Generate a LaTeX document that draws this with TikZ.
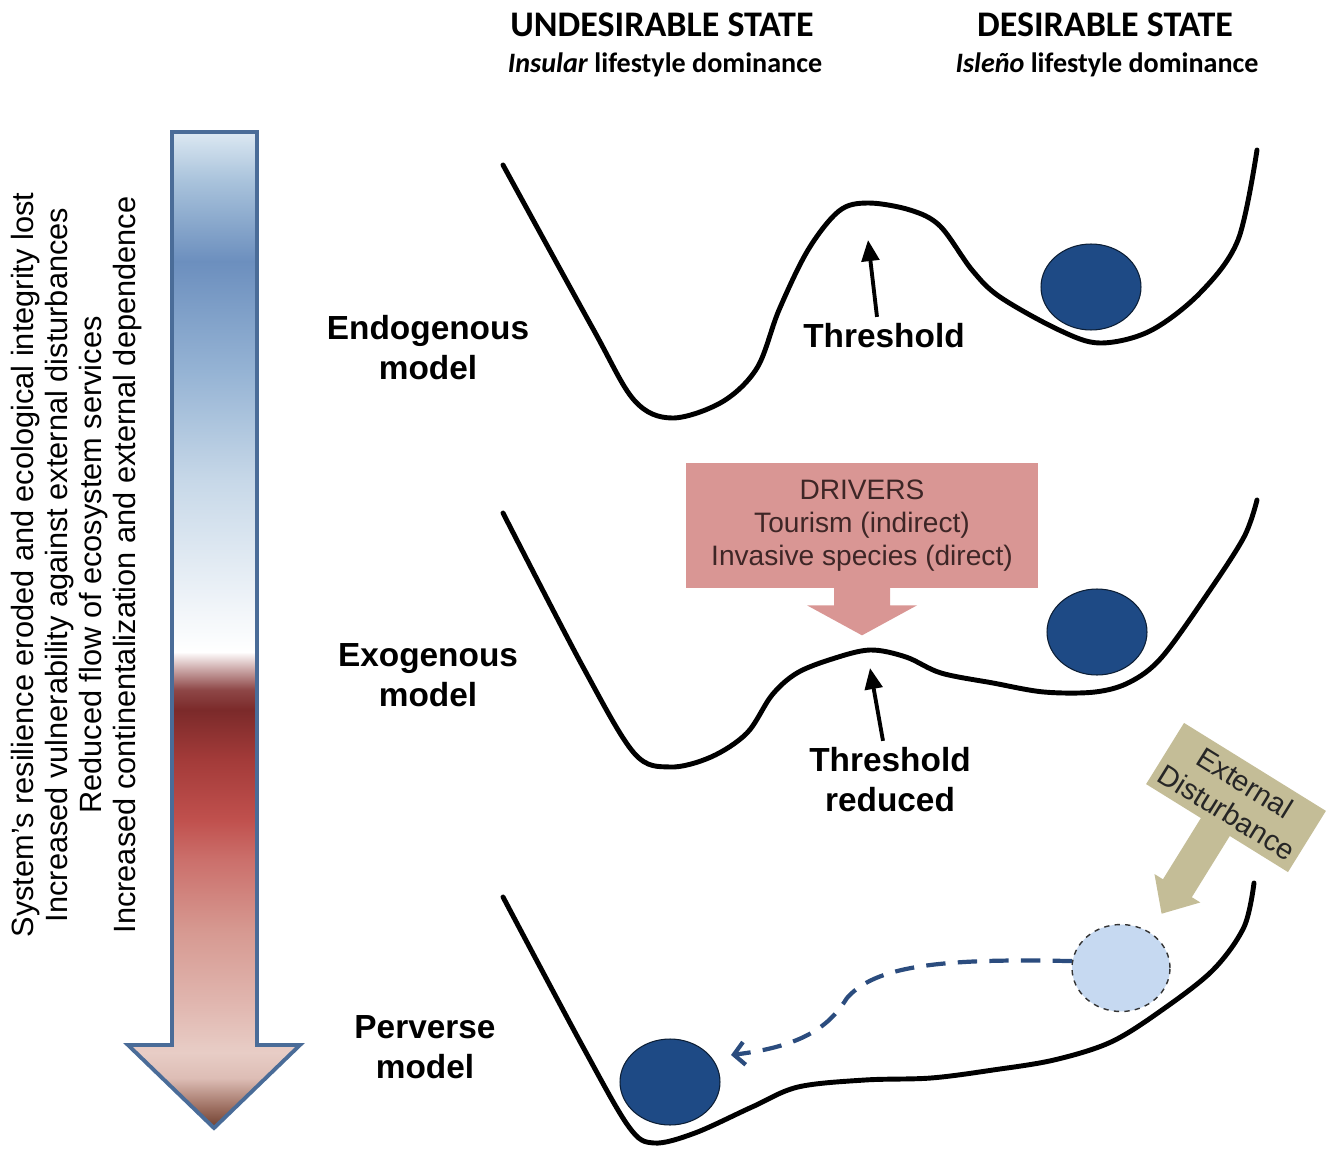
\documentclass[tikz,border=0pt]{standalone}
\usepackage{fontspec}
\setmainfont{Liberation Sans}
\newfontfamily\calibri{Carlito}
\usepackage{tikz}
\usetikzlibrary{arrows.meta,shapes.geometric,positioning,calc}

\definecolor{ballblue}{HTML}{1E4A85}
\definecolor{ghostblue}{HTML}{C6D9F1}
\definecolor{pathblue}{HTML}{2B4C7E}
\definecolor{driverpink}{HTML}{D99694}
\definecolor{drivertext}{HTML}{3E2626}
\definecolor{disttan}{HTML}{C4BD97}
\definecolor{frameblue}{HTML}{4A6C98}

\definecolor{g0}{HTML}{6E3F2E}
\definecolor{g1}{HTML}{9C6E60}
\definecolor{g2}{HTML}{DDBDB5}
\definecolor{g3}{HTML}{E8CDC6}
\definecolor{g4}{HTML}{E0B5AE}
\definecolor{g5}{HTML}{D69890}
\definecolor{g6}{HTML}{CB6F6B}
\definecolor{g7}{HTML}{C0504D}
\definecolor{g8}{HTML}{A33B39}
\definecolor{g9}{HTML}{7B2A2A}
\definecolor{g10}{HTML}{8E4747}
\definecolor{g11}{HTML}{C9A5A5}
\definecolor{g12}{HTML}{FFFFFF}
\definecolor{g13}{HTML}{EEF3F8}
\definecolor{g14}{HTML}{C7D8E8}
\definecolor{g15}{HTML}{95B3D4}
\definecolor{g16}{HTML}{6C8FBE}
\definecolor{g17}{HTML}{A8C2DB}
\definecolor{g18}{HTML}{DCE8F2}

\pgfdeclareverticalshading{trendshade}{100bp}{color(0bp)=(g0); color(25bp)=(g0); color(26bp)=(g1); color(27.5bp)=(g2); color(28.8bp)=(g3); color(31.4bp)=(g4); color(35bp)=(g5); color(38.5bp)=(g6); color(40.5bp)=(g7); color(43.5bp)=(g8); color(46bp)=(g9); color(47bp)=(g10); color(48bp)=(g11); color(48.9bp)=(g12); color(51.5bp)=(g13); color(57.5bp)=(g14); color(63bp)=(g15); color(68.5bp)=(g16); color(72.5bp)=(g17); color(75bp)=(g18); color(100bp)=(g18)}

\begin{document}
\begin{tikzpicture}[x=0.02cm, y=-0.02cm,
	modeltext/.style={font=\bfseries\fontsize{19}{22.8}\selectfont, align=center, inner sep=2pt},
	headtext/.style={font=\calibri\bfseries\fontsize{20.5}{24}\selectfont},
	subtext/.style={font=\calibri\bfseries\fontsize{16}{19}\selectfont},
	ball/.style={ellipse, draw=black!60!ballblue, line width=0.6pt, fill=ballblue, minimum width=2cm, minimum height=1.72cm, inner sep=0pt},
	ghost/.style={ellipse, draw=black!80, dashed, line width=0.8pt, fill=ghostblue, minimum width=1.96cm, minimum height=1.74cm, inner sep=0pt},
	ridge/.style={line width=2.8pt, line join=round, line cap=round},
	thrarrow/.style={-{Triangle[length=12pt,width=10pt]}, line width=2.2pt},
	dashpath/.style={-{Straight Barb[length=6pt,width=13pt]}, line width=2.4pt, pathblue, dash pattern=on 11pt off 7pt},
	driverbox/.style={fill=driverpink, text=drivertext, minimum width=7.06cm, minimum height=2.5cm, align=center, font=\fontsize{16}{19}\selectfont},
	distbox/.style={fill=disttan, text=black!85, minimum width=3.34cm, minimum height=1.44cm, align=center, inner sep=1pt, font=\fontsize{16.5}{19.5}\selectfont}]
	\useasboundingbox (0,0) rectangle (1336,1149);

	\node [headtext](undes) at (662,25) {UNDESIRABLE STATE};
	\node [subtext](insular) at (665,65) {\textit{Insular} lifestyle dominance};
	\node [headtext](des) at (1105,25) {DESIRABLE STATE};
	\node [subtext](isleno) at (1107,65) {\textit{Isleño} lifestyle dominance};

	\shadedraw [shading=trendshade, draw=frameblue, line width=2.2pt, line join=miter] (172,132) -- (257,132) -- (257,1045) -- (300,1045) -- (214,1128) -- (128,1045) -- (172,1045) -- cycle;
	\node [rotate=90, align=center, font=\fontsize{17.5}{19.35}\selectfont](trend) at (77,565) {System's resilience eroded and ecological integrity lost\\Increased vulnerability against external disturbances\\Reduced flow of ecosystem services\\Increased continentalization and external dependence};

	\node [modeltext](endo) at (428,348) {Endogenous\\model};
	\node [modeltext](exo) at (428,675) {Exogenous\\model};
	\node [modeltext](perv) at (425,1047) {Perverse\\model};

	\draw [ridge] plot [smooth, tension=0.55] coordinates {(503,165) (592,327) (634,400) (672,418) (722,402) (757,368) (779,310) (808,250) (839,211) (868,203) (910,210) (940,226) (972,270) (1000,297) (1059,330) (1100,343) (1150,331) (1200,293) (1238,240) (1257,150)};
	\node [ball](ball1) at (1091,287) {};
	\node [modeltext](thr1) at (884,336) {Threshold};
	\coordinate (peak1) at (868,240);
	\draw [thrarrow] ($(thr1.north)+(-7,-3)$) -- (peak1);

	\node [driverbox](drivers) at (862,525.5) {DRIVERS\\Tourism (indirect)\\Invasive species (direct)};
	\fill [driverpink] (drivers.south) ++(-28,-1) -- ++(0,18) -- ++(-27,0) -- ++(55,30) -- ++(55,-30) -- ++(-27,0) -- ++(0,-18) -- cycle;

	\draw [ridge] plot [smooth, tension=0.55] coordinates {(503,513) (583,667) (634,753) (670,767) (711,757) (747,733) (772,695) (797,673) (832,659) (870,650) (906,657) (941,673) (993,683) (1044,692) (1095,692) (1130,682) (1162,657) (1208,593) (1244,537) (1257,500)};
	\node [ball](ball2) at (1097,632) {};
	\node [modeltext](thr2) at (890,780) {Threshold\\reduced};
	\coordinate (peak2) at (870,668);
	\draw [thrarrow] ($(thr2.north)+(-7,-3)$) -- (peak2);

	\node [distbox, rotate=-31.8](dist) at (1236,797.5) {External\\Disturbance};
	\begin{scope}[shift={(dist.center)}, rotate=-31.8]
		\fill [disttan] (-19,34) -- (-19,108) -- (-29,108) -- (-2,138) -- (25,108) -- (15,108) -- (15,34) -- cycle;
	\end{scope}

	\draw [ridge] plot [smooth, tension=0.55] coordinates {(503,897) (583,1047) (629,1127) (654,1143) (695,1133) (752,1107) (798,1087) (865,1080) (931,1078) (993,1070) (1054,1060) (1111,1042) (1162,1010) (1213,970) (1244,927) (1254,883)};
	\node [ball](ball3) at (670,1082) {};
	\node [ghost](ghost) at (1121,968) {};
	\coordinate (landing) at (731,1055);
	\draw [dashpath] (ghost.172) .. controls (940,958) and (875,966) .. (847,998) .. controls (830,1025) and (805,1046) .. (landing);
\end{tikzpicture}
\end{document}
